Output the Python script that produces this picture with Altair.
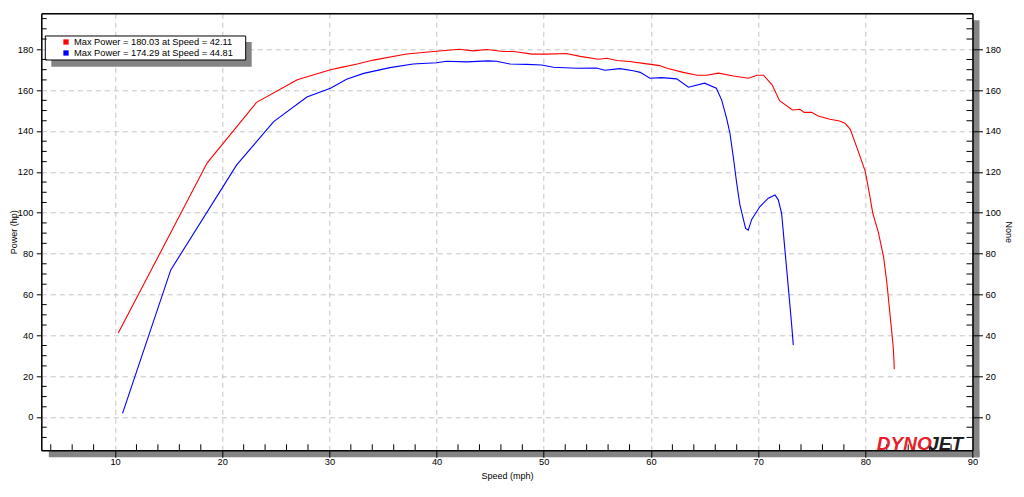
import altair as alt
import pandas as pd

# ---------------- data ----------------
red_speed = [10.3, 18.6, 23.2, 27.0, 30.1, 31.0, 32.6, 34.1, 37.2, 40.0, 42.11, 43.4, 44.7,
             46.2, 47.2, 48.9, 50.3, 52.1, 53.4, 55.1, 55.9, 56.8, 58.0, 59.3, 60.8, 61.5,
             63.0, 64.3, 65.2, 66.3, 67.7, 69.1, 69.9, 70.5, 71.3, 72.0, 73.2, 73.9, 74.3,
             75.0, 75.6, 76.7, 77.6, 78.1, 78.6, 79.3, 80.0, 80.4, 80.7, 81.2, 81.7, 82.0,
             82.45, 82.6, 82.67, 82.7]
red_power = [41.1, 124.4, 154.0, 165.1, 170.0, 171.0, 172.8, 174.7, 177.7, 179.0, 180.03, 179.2,
             179.9, 178.9, 178.9, 177.6, 177.6, 177.9, 176.5, 175.1, 175.6, 174.5, 174.0, 173.1,
             172.0, 170.7, 168.7, 167.3, 167.3, 168.3, 166.9, 165.8, 167.3, 167.3, 162.6, 154.8,
             150.3, 150.6, 149.1, 149.1, 147.3, 145.7, 144.9, 143.8, 140.8, 130.6, 120.1, 108.7,
             99.7, 90.7, 78.5, 66.2, 42.5, 34.4, 27.9, 23.4]

blue_speed = [10.7, 15.2, 21.35, 24.8, 27.9, 30.1, 31.6, 33.2, 35.65, 37.8, 40.0, 40.9, 42.8,
              44.81, 45.6, 46.85, 48.4, 49.8, 50.9, 53.1, 54.9, 55.7, 57.1, 58.35, 59.0, 59.9,
              61.0, 62.4, 63.5, 65.0, 66.1, 66.6, 67.06, 67.37, 67.68, 68.0, 68.3, 68.83, 69.08,
              69.4, 70.17, 70.95, 71.57, 71.88, 72.19, 72.5, 72.81, 73.13, 73.28]
blue_power = [1.8, 72.0, 123.4, 144.6, 156.6, 160.9, 165.3, 168.2, 171.0, 172.8, 173.4, 174.1,
              173.8, 174.29, 174.1, 172.8, 172.6, 172.3, 171.2, 170.7, 170.8, 169.7, 170.5, 169.5,
              168.7, 165.8, 166.1, 165.5, 161.4, 163.4, 160.9, 155.1, 146.2, 138.9, 127.4, 114.4,
              103.8, 92.3, 91.5, 96.7, 103.0, 107.1, 108.7, 106.3, 99.7, 81.8, 63.8, 45.0, 35.2]

series_labels = ["Max Power = 180.03 at Speed = 42.11",
                 "Max Power = 174.29 at Speed = 44.81"]
series_colors = ["#ff0000", "#0000ff"]

x_major = [10, 20, 30, 40, 50, 60, 70, 80, 90]
x_grid = [10, 20, 30, 40, 50, 60, 70, 80]
x_minor = [v for v in range(4, 90, 2) if v % 10 != 0]
y_major = [0, 20, 40, 60, 80, 100, 120, 140, 160, 180]
y_minor = [v for v in range(-10, 200, 5) if v % 20 != 0]
logo_parts = ["DYNO", "JET"]

# ---------------- layout ----------------
W, H = 931.2, 437
FONT = "Liberation Sans"

df = pd.concat([
    pd.DataFrame({"speed": red_speed, "power": red_power, "series": series_labels[0]}),
    pd.DataFrame({"speed": blue_speed, "power": blue_power, "series": series_labels[1]}),
])
one = pd.DataFrame({"k": [0]})

xscale = alt.Scale(domain=[3.12, 90], nice=False, zero=False)
yscale = alt.Scale(domain=[-16.3, 197.6], nice=False, zero=False)
cscale = alt.Scale(domain=series_labels, range=series_colors)

grid_common = dict(grid=True, domain=False, ticks=False, labels=False, title=None,
                   gridColor="#c3c3c3", gridDash=[5, 4], gridWidth=1)

# shadows of the plot frame
shadow_bottom = alt.Chart(one).mark_rect(color="#848484").encode(
    x=alt.value(7.5), x2=alt.value(W + 7), y=alt.value(H), y2=alt.value(H + 7))
shadow_right = alt.Chart(one).mark_rect(color="#848484").encode(
    x=alt.value(W), x2=alt.value(W + 7), y=alt.value(7), y2=alt.value(H + 7))

lines = alt.Chart(df).mark_line(strokeWidth=1.1).encode(
    x=alt.X("speed:Q", scale=xscale, axis=alt.Axis(values=x_grid, **grid_common)),
    y=alt.Y("power:Q", scale=yscale, axis=alt.Axis(values=y_major, **grid_common)),
    color=alt.Color("series:N", scale=cscale, legend=None),
)

# legend box (drawn with marks, colours through the colour scale)
legend_shadow = alt.Chart(one).mark_rect(color="#848484").encode(
    x=alt.value(10), x2=alt.value(210.4), y=alt.value(28.7), y2=alt.value(53.4))
legend_box = alt.Chart(one).mark_rect(fill="white", stroke="black", strokeWidth=1).encode(
    x=alt.value(4), x2=alt.value(204.4), y=alt.value(22.7), y2=alt.value(46.7))
legend_layers = []
for i, lbl in enumerate(series_labels):
    row = pd.DataFrame({"series": [lbl]})
    ypos = 28.7 + 11 * i
    legend_layers.append(alt.Chart(row).mark_square(size=28, filled=True, opacity=1).encode(
        x=alt.value(24.7), y=alt.value(ypos),
        color=alt.Color("series:N", scale=cscale, legend=None)))
    legend_layers.append(alt.Chart(row).mark_text(
        font=FONT, fontSize=9.3, color="#000000", align="left", baseline="middle").encode(
        text="series:N", x=alt.value(32.7), y=alt.value(ypos)))

left_minor = alt.Chart(pd.DataFrame({"v": y_minor})).mark_rule(color="black", strokeWidth=1).encode(
    y=alt.Y("v:Q", scale=yscale, axis=None), x=alt.value(0), x2=alt.value(5.4))
right_minor = alt.Chart(pd.DataFrame({"v": y_minor})).mark_rule(color="black", strokeWidth=1).encode(
    y=alt.Y("v:Q", scale=yscale, axis=None), x=alt.value(W - 6), x2=alt.value(W))
bottom_minor = alt.Chart(pd.DataFrame({"v": x_minor})).mark_rule(color="black", strokeWidth=1).encode(
    x=alt.X("v:Q", scale=xscale, axis=None), y=alt.value(H - 6), y2=alt.value(H))

logo_a = alt.Chart(pd.DataFrame({"t": [logo_parts[0]]})).mark_text(
    font=FONT, fontSize=19, fontWeight="bold", fontStyle="italic", color="#e8202a",
    align="left", baseline="alphabetic").encode(text="t:N", x=alt.value(835.5), y=alt.value(437))
logo_b = alt.Chart(pd.DataFrame({"t": [logo_parts[1]]})).mark_text(
    font=FONT, fontSize=19, fontWeight="bold", fontStyle="italic", color="#1e1e1e",
    align="left", baseline="alphabetic").encode(text="t:N", x=alt.value(887), y=alt.value(437))

lab = dict(labelFont=FONT, labelFontSize=9.3, labelColor="#000000", titleFont=FONT,
           titleFontSize=9, titleFontWeight="normal", titleColor="#000000",
           domainColor="black", domainWidth=1.5, tickColor="black", tickWidth=1,
           grid=False, labelOverlap=False, labelFlush=False, zindex=2)

axes_main = alt.Chart(df).mark_square(size=0, filled=True).encode(
    x=alt.X("speed:Q", scale=xscale, axis=alt.Axis(
        orient="bottom", values=x_major, tickSize=7, labelPadding=0, title="Speed (mph)",
        titleY=25, titleBaseline="middle", **lab)),
    y=alt.Y("power:Q", scale=yscale, axis=alt.Axis(
        orient="left", values=y_major, tickSize=5, labelPadding=3.5, title="Power (hp)",
        titleX=-27.5, titleBaseline="middle", **lab)),
)

axes_right = alt.Chart(df).mark_square(size=0, filled=True).encode(
    x=alt.X("speed:Q", scale=xscale, axis=alt.Axis(
        orient="top", ticks=False, labels=False, title=None, domainColor="black",
        domainWidth=1.5, grid=False, zindex=2)),
    y=alt.Y("power:Q", scale=yscale, axis=alt.Axis(
        orient="right", values=y_major, tickSize=10, labelPadding=2.5, title="None",
        titleAngle=90, titleX=36, titleBaseline="middle", **lab)),
)

chart = alt.layer(
    shadow_bottom, shadow_right, lines, legend_shadow, legend_box, *legend_layers,
    left_minor, right_minor, bottom_minor, logo_a, logo_b, axes_main, axes_right,
).resolve_axis(x="independent", y="independent").properties(
    width=W, height=H,
    autosize=alt.AutoSizeParams(type="none"),
    padding={"left": 33.3, "top": 5.3, "right": 43, "bottom": 34},
).configure_view(strokeWidth=0).configure(font=FONT)

chart.save("out.html", embed_options={"renderer": "svg", "actions": False})
